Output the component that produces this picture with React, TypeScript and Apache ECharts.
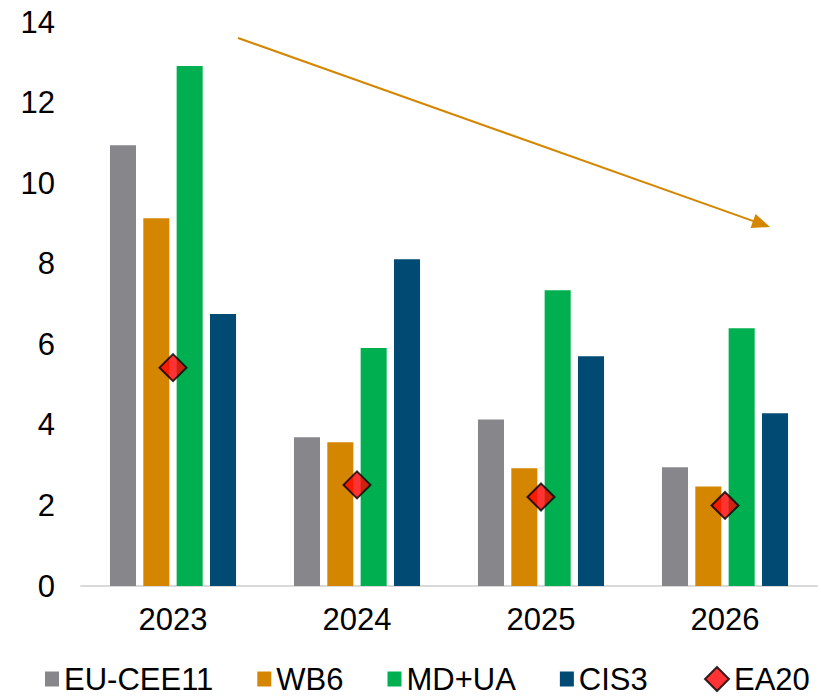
import React, { useEffect, useRef } from "react";
import * as echarts from "echarts";

const years = ["2023", "2024", "2025", "2026"];
const euCee11 = [10.94, 3.69, 4.13, 2.95];
const wb6 = [9.13, 3.57, 2.92, 2.47];
const mdUa = [12.91, 5.91, 7.34, 6.4];
const cis3 = [6.75, 8.11, 5.7, 4.29];
const ea20 = [5.42, 2.51, 2.21, 2.0];
const yTicks = { min: 0, max: 14, interval: 2 };

const FONT = "'Liberation Sans', Arial, Helvetica, sans-serif";
const ORANGE = "#D58600";

// Trend arrow across the top of the plot
const arrowStart = [238, 38];
const arrowTip = [770, 227];

function arrowGraphics() {
  const dx = arrowTip[0] - arrowStart[0];
  const dy = arrowTip[1] - arrowStart[1];
  const len = Math.hypot(dx, dy);
  const ux = dx / len;
  const uy = dy / len;
  const headLen = 18;
  const headHalf = 7.5;
  const bx = arrowTip[0] - ux * headLen;
  const by = arrowTip[1] - uy * headLen;
  const px = -uy;
  const py = ux;
  return [
    {
      type: "line",
      shape: { x1: arrowStart[0], y1: arrowStart[1], x2: bx + ux * 2, y2: by + uy * 2 },
      style: { stroke: ORANGE, lineWidth: 2 },
      silent: true,
    },
    {
      type: "polygon",
      shape: {
        points: [
          [arrowTip[0], arrowTip[1]],
          [bx + px * headHalf, by + py * headHalf],
          [bx - px * headHalf, by - py * headHalf],
        ],
      },
      style: { fill: ORANGE },
      silent: true,
    },
  ];
}

export default function App() {
  const ref = useRef<HTMLDivElement>(null);

  useEffect(() => {
    document.body.style.margin = "0";
    if (!ref.current) return;
    const chart = echarts.init(ref.current, null, { renderer: "svg" });

    const barSeries = (name: string, data: number[], color: string) => ({
      name,
      type: "bar",
      data,
      barGap: "28%",
      barCategoryGap: "31.5%",
      itemStyle: { color },
    });

    chart.setOption({
      animation: false,
      backgroundColor: "#ffffff",
      textStyle: { fontFamily: FONT },
      grid: { left: 81, right: 4, top: 22, bottom: 112, containLabel: false },
      xAxis: {
        type: "category",
        data: years,
        axisLine: { show: true, lineStyle: { color: "#D9D9D9", width: 2 } },
        axisTick: { show: false },
        axisLabel: { color: "#000", fontSize: 31, fontFamily: FONT, margin: 18 },
      },
      yAxis: {
        type: "value",
        min: yTicks.min,
        max: yTicks.max,
        interval: yTicks.interval,
        axisLine: { show: false },
        axisTick: { show: false },
        splitLine: { show: false },
        axisLabel: { color: "#000", fontSize: 31, fontFamily: FONT, margin: 26 },
      },
      legend: [
        {
          data: ["EU-CEE11", "WB6", "MD+UA", "CIS3"],
          left: 45,
          top: 662,
          icon: "rect",
          itemWidth: 14,
          itemHeight: 15,
          itemGap: 44,
          padding: 0,
          textStyle: { color: "#000", fontSize: 31, fontFamily: FONT, lineHeight: 34 },
        },
        {
          data: ["EA20"],
          left: 704,
          top: 662,
          itemWidth: 24,
          itemHeight: 24,
          padding: 0,
          textStyle: { color: "#000", fontSize: 31, fontFamily: FONT, lineHeight: 34 },
        },
      ],
      series: [
        barSeries("EU-CEE11", euCee11, "#87868B"),
        barSeries("WB6", wb6, ORANGE),
        barSeries("MD+UA", mdUa, "#00B050"),
        barSeries("CIS3", cis3, "#004A73"),
        {
          name: "EA20",
          type: "scatter",
          data: ea20,
          symbol: "diamond",
          symbolSize: 27,
          z: 5,
          itemStyle: { color: "#FF0000", borderColor: "#000000", borderWidth: 2 },
        },
      ],
      graphic: arrowGraphics(),
    });

    return () => chart.dispose();
  }, []);

  return <div ref={ref} style={{ width: 821, height: 698 }} />;
}
